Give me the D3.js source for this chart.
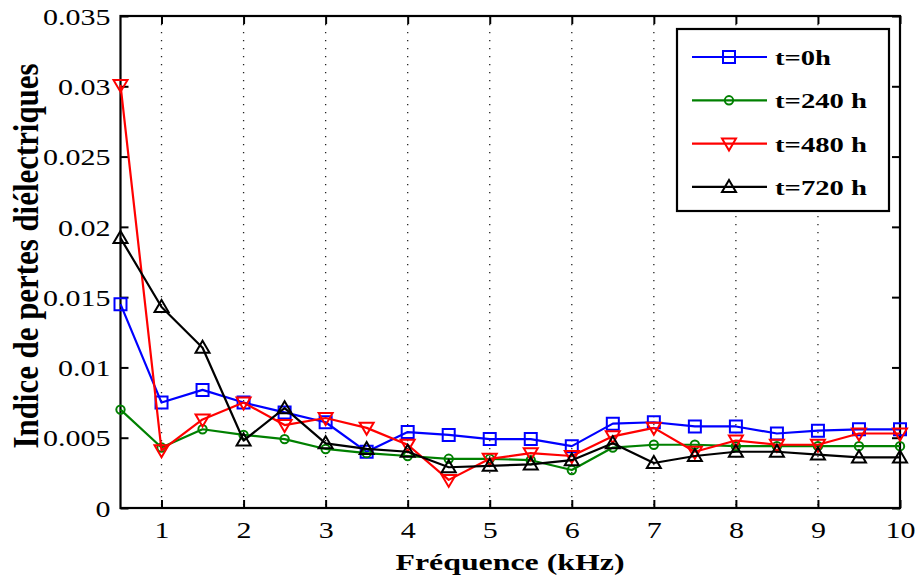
<!DOCTYPE html>
<html>
<head>
<meta charset="utf-8">
<script src="https://cdn.jsdelivr.net/npm/d3@7"></script>
<style>
  html, body { margin: 0; padding: 0; background: #fff; }
  svg { display: block; }
  text { font-family: "Liberation Serif", "Times New Roman", serif; fill: #000; }
</style>
</head>
<body>
<svg id="chart" width="917" height="581"></svg>
<script>
// Frequency (kHz)
const frequencies = [0.5, 1, 1.5, 2, 2.5, 3, 3.5, 4, 4.5, 5, 5.5, 6, 6.5, 7, 7.5, 8, 8.5, 9, 9.5, 10];

// Dielectric loss index for each ageing time
const loss0h   = [0.0145, 0.0075, 0.0084, 0.0075, 0.0068, 0.0061, 0.0040, 0.0054, 0.0052, 0.0049, 0.0049, 0.0044, 0.0060, 0.0061, 0.0058, 0.0058, 0.0053, 0.0055, 0.0056, 0.0056];
const loss240h = [0.0070, 0.0043, 0.0056, 0.0052, 0.0049, 0.0042, 0.0039, 0.0037, 0.0035, 0.0035, 0.0034, 0.0027, 0.0043, 0.0045, 0.0045, 0.0044, 0.0044, 0.0044, 0.0044, 0.0044];
const loss480h = [0.0301, 0.0041, 0.0063, 0.0075, 0.0059, 0.0064, 0.0057, 0.0045, 0.0020, 0.0035, 0.0039, 0.0037, 0.0051, 0.0057, 0.0040, 0.0048, 0.0045, 0.0045, 0.0053, 0.0053];
const loss720h = [0.0192, 0.0143, 0.0114, 0.0048, 0.0071, 0.0046, 0.0042, 0.0040, 0.0029, 0.0030, 0.0031, 0.0034, 0.0046, 0.0032, 0.0037, 0.0040, 0.0040, 0.0038, 0.0036, 0.0036];

const seriesNames = ["t=0h", "t=240 h", "t=480 h", "t=720 h"];
const seriesColors = ["#0000ff", "#008000", "#ff0000", "#000000"];
const seriesMarkers = ["square", "circle", "triangleDown", "triangleUp"];

const xTicks = [1, 2, 3, 4, 5, 6, 7, 8, 9, 10];
const yTicks = [0, 0.005, 0.01, 0.015, 0.02, 0.025, 0.03, 0.035];
const yTickLabels = ["0", "0.005", "0.01", "0.015", "0.02", "0.025", "0.03", "0.035"];

const xTitle = "Fréquence (kHz)";
const yTitle = "Indice de pertes diélectriques";

const series = [loss0h, loss240h, loss480h, loss720h].map((vals, i) => ({
  name: seriesNames[i],
  color: seriesColors[i],
  marker: seriesMarkers[i],
  points: vals.map((v, j) => ({ x: frequencies[j], y: v }))
}));

const svg = d3.select("#chart");
const plot = { left: 120.5, right: 900, top: 16, bottom: 508 };
const x = d3.scaleLinear().domain([0.5, 10]).range([plot.left, plot.right]);
const y = d3.scaleLinear().domain([0, 0.035]).range([plot.bottom, plot.top]);
const sx = 1.25; // horizontal stretch of the serif labels

// dotted vertical grid
svg.append("g").selectAll("line")
  .data(xTicks.filter(t => t < 10))
  .join("line")
  .attr("x1", d => x(d)).attr("x2", d => x(d))
  .attr("y1", plot.top).attr("y2", plot.bottom)
  .attr("stroke", "#222").attr("stroke-width", 1.3)
  .attr("stroke-dasharray", "1.3,6.7");

// bottom axis
const xAxis = svg.append("g")
  .attr("transform", `translate(0,${plot.bottom})`)
  .call(d3.axisBottom(x).tickValues(xTicks).tickSize(-8).tickSizeOuter(0).tickFormat(d3.format("d")));
xAxis.select(".domain").remove();
xAxis.selectAll(".tick line").attr("stroke", "#000").attr("stroke-width", 2);
xAxis.selectAll(".tick text")
  .attr("y", 0).attr("dy", 0)
  .attr("transform", `translate(0,30) scale(${sx},1)`)
  .attr("font-size", 24);

// top axis ticks
const xTop = svg.append("g")
  .attr("transform", `translate(0,${plot.top})`)
  .call(d3.axisTop(x).tickValues(xTicks).tickSize(-8).tickSizeOuter(0).tickFormat(""));
xTop.select(".domain").remove();
xTop.selectAll(".tick line").attr("stroke", "#000").attr("stroke-width", 2);

// left axis
const yAxis = svg.append("g")
  .attr("transform", `translate(${plot.left},0)`)
  .call(d3.axisLeft(y).tickValues(yTicks).tickSize(-8).tickSizeOuter(0)
    .tickFormat((d, i) => yTickLabels[i]));
yAxis.select(".domain").remove();
yAxis.selectAll(".tick line").attr("stroke", "#000").attr("stroke-width", 2);
yAxis.selectAll(".tick text")
  .attr("x", -10 / sx).attr("dy", "0.34em")
  .attr("transform", `scale(${sx},1)`)
  .attr("font-size", 24);

// right axis ticks
const yRight = svg.append("g")
  .attr("transform", `translate(${plot.right},0)`)
  .call(d3.axisRight(y).tickValues(yTicks).tickSize(-8).tickSizeOuter(0).tickFormat(""));
yRight.select(".domain").remove();
yRight.selectAll(".tick line").attr("stroke", "#000").attr("stroke-width", 2);

// axes box
svg.append("rect")
  .attr("x", plot.left).attr("y", plot.top)
  .attr("width", plot.right - plot.left).attr("height", plot.bottom - plot.top)
  .attr("fill", "none").attr("stroke", "#000").attr("stroke-width", 2.2);

// marker shapes
function markerPath(type) {
  if (type === "square") return "M-6,-6H6V6H-6Z";
  if (type === "circle") return d3.symbol(d3.symbolCircle, 55)();
  if (type === "triangleDown") return "M-7,-5H7L0,7Z";
  return "M0,-7L7,5H-7Z";
}

const line = d3.line().x(d => x(d.x)).y(d => y(d.y));

const gSeries = svg.append("g").selectAll("g")
  .data(series).join("g");

gSeries.append("path")
  .attr("d", d => line(d.points))
  .attr("fill", "none")
  .attr("stroke", d => d.color)
  .attr("stroke-width", 2.2)
  .attr("stroke-linejoin", "round");

gSeries.each(function(s) {
  d3.select(this).selectAll("path.mk")
    .data(s.points)
    .join("path")
    .attr("class", "mk")
    .attr("transform", d => `translate(${x(d.x)},${y(d.y)})`)
    .attr("d", markerPath(s.marker))
    .attr("fill", "none")
    .attr("stroke", s.color)
    .attr("stroke-width", 2);
});

// legend
const legend = { x: 677, y: 29, w: 212, h: 182 };
svg.append("rect")
  .attr("x", legend.x).attr("y", legend.y)
  .attr("width", legend.w).attr("height", legend.h)
  .attr("fill", "#fff").attr("stroke", "#000").attr("stroke-width", 2.2);

const legendWidths = [56, 92, 92, 92];
const lg = svg.append("g").selectAll("g")
  .data(series).join("g")
  .attr("transform", (d, i) => `translate(0,${57 + i * 43.3})`);
lg.append("line")
  .attr("x1", 692).attr("x2", 767)
  .attr("stroke", d => d.color).attr("stroke-width", 2.2);
lg.append("path")
  .attr("transform", "translate(729,0)")
  .attr("d", d => markerPath(d.marker))
  .attr("fill", "none").attr("stroke", d => d.color).attr("stroke-width", 2);
lg.append("text")
  .attr("x", 775).attr("y", 8)
  .attr("font-size", 22).attr("font-weight", "bold")
  .attr("textLength", (d, i) => legendWidths[i])
  .attr("lengthAdjust", "spacingAndGlyphs")
  .text(d => d.name);

// axis titles
svg.append("text")
  .attr("x", 510).attr("y", 570)
  .attr("text-anchor", "middle")
  .attr("font-size", 23).attr("font-weight", "bold")
  .attr("textLength", 229).attr("lengthAdjust", "spacingAndGlyphs")
  .text(xTitle);

svg.append("text")
  .attr("transform", `translate(38,256) scale(1.3,1) rotate(-90)`)
  .attr("text-anchor", "middle")
  .attr("font-size", 27).attr("font-weight", "bold")
  .attr("textLength", 385).attr("lengthAdjust", "spacingAndGlyphs")
  .text(yTitle);
</script>
</body>
</html>
